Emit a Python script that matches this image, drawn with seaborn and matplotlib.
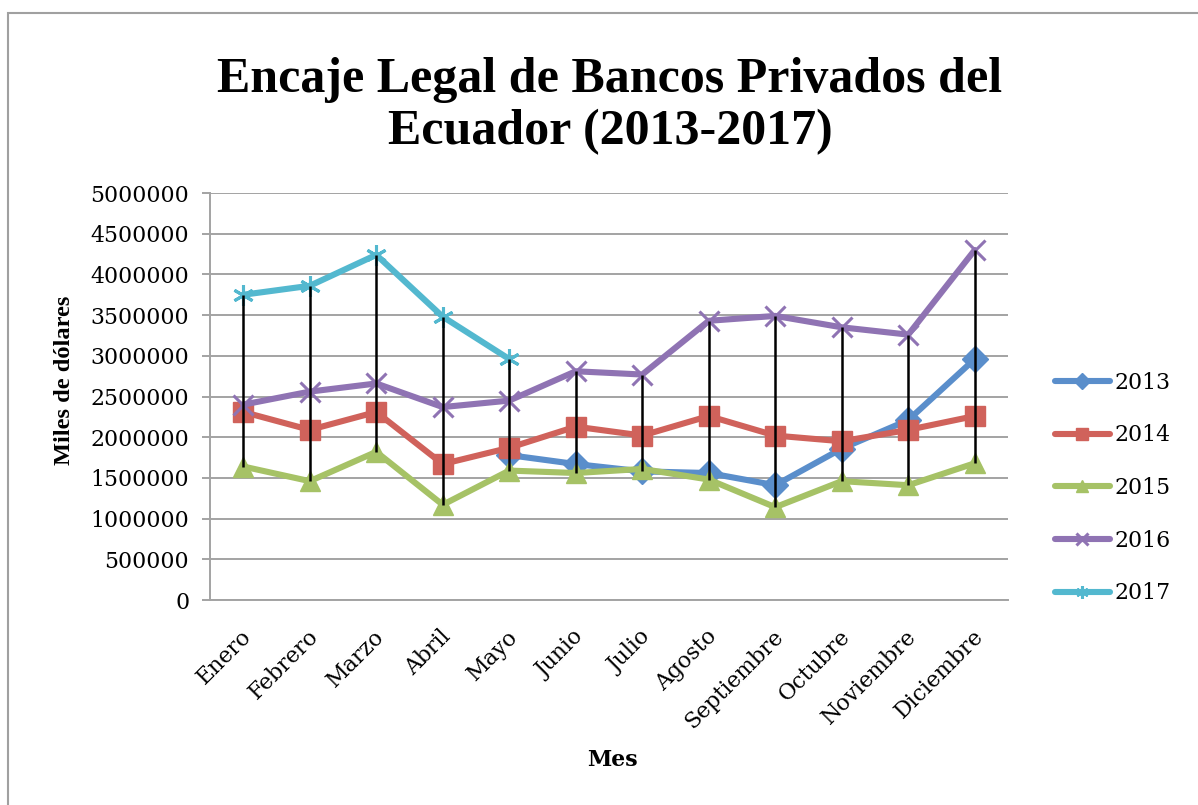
import numpy as np
import pandas as pd
import matplotlib
matplotlib.use("Agg")
import matplotlib.pyplot as plt
import matplotlib.patches as mpatches
from matplotlib.transforms import ScaledTranslation
import seaborn as sns

meses = ['Enero', 'Febrero', 'Marzo', 'Abril', 'Mayo', 'Junio', 'Julio',
         'Agosto', 'Septiembre', 'Octubre', 'Noviembre', 'Diciembre']
nan = np.nan
v2013 = [nan, nan, nan, nan, 1780000, 1670000, 1580000, 1560000, 1410000, 1860000, 2210000, 2960000]
v2014 = [2310000, 2090000, 2310000, 1670000, 1870000, 2130000, 2020000, 2260000, 2020000, 1950000, 2090000, 2260000]
v2015 = [1640000, 1460000, 1820000, 1170000, 1590000, 1560000, 1610000, 1480000, 1140000, 1460000, 1410000, 1680000]
v2016 = [2400000, 2560000, 2660000, 2370000, 2450000, 2810000, 2770000, 3430000, 3490000, 3350000, 3260000, 4300000]
v2017 = [3750000, 3860000, 4240000, 3480000, 2960000, nan, nan, nan, nan, nan, nan, nan]
anios = ['2013', '2014', '2015', '2016', '2017']
yticks = [0, 500000, 1000000, 1500000, 2000000, 2500000, 3000000, 3500000, 4000000, 4500000, 5000000]

series = {'2013': v2013, '2014': v2014, '2015': v2015, '2016': v2016, '2017': v2017}
colores = {'2013': '#5a8ecb', '2014': '#d0625b', '2015': '#a6c266', '2016': '#8f73b3', '2017': '#53b8cf'}
marcadores = {'2013': 'D', '2014': 's', '2015': '^', '2016': 'x', '2017': (6, 2, 0)}
tamanos = {'2013': 13, '2014': 15, '2015': 15, '2016': 15, '2017': 15}

sns.set_theme(style="white")
plt.rcParams['font.family'] = ['DejaVu Serif']
plt.rcParams['text.color'] = 'black'
plt.rcParams['axes.labelcolor'] = 'black'

W, H = 1198, 805
fig = plt.figure(figsize=(W / 100, H / 100), dpi=100)
ax = fig.add_axes([210 / W, (H - 600) / H, (1008 - 210) / W, (600 - 193) / H])

pos = np.arange(len(meses))
df = pd.DataFrame({'pos': pos, **series})
grid_c = '#a3a3a3'

for a in anios:
    c = colores[a]
    filled = a in ('2013', '2014', '2015')
    sns.lineplot(data=df, x='pos', y=a, ax=ax, color=c, linewidth=4.4,
                 marker=marcadores[a], markersize=tamanos[a],
                 markeredgecolor=c, markerfacecolor=c if filled else 'none',
                 markeredgewidth=1 if filled else 2.2,
                 solid_capstyle='round', solid_joinstyle='round',
                 label=a, zorder=3)

# high-low lines across all series per month
datos = np.array([v2013, v2014, v2015, v2016, v2017], dtype=float)
alto = np.nanmax(datos, axis=0)
bajo = np.nanmin(datos, axis=0)
ax.vlines(pos, bajo, alto, color='black', linewidth=1.8, zorder=4)

ax.set_xlim(-0.5, len(meses) - 0.5)
ax.set_ylim(0, 5000000)
ax.set_yticks(yticks)
ax.set_yticklabels([str(v) for v in yticks], fontsize=15.8)
ax.set_xticks(pos)
ax.set_xticklabels(meses, fontsize=15.8, rotation=45, ha='right', va='center',
                   rotation_mode='anchor')
ax.tick_params(axis='x', length=0, pad=24, labelcolor='black')
ax.tick_params(axis='y', length=6, width=1.4, color=grid_c, pad=9, direction='out',
               left=True, labelcolor='black')
desplazar = ScaledTranslation(5 / 100, 0, fig.dpi_scale_trans)
for lbl in ax.get_xticklabels():
    lbl.set_transform(lbl.get_transform() + desplazar)
ax.grid(axis='y', color=grid_c, linewidth=1.4, zorder=0)
ax.set_axisbelow(True)
for s in ('top', 'right'):
    ax.spines[s].set_visible(False)
for s in ('left', 'bottom'):
    ax.spines[s].set_color(grid_c)
    ax.spines[s].set_linewidth(1.4)
ax.set_xlabel('')
ax.set_ylabel('')

fig.text(610 / W, 1 - 106 / H, 'Encaje Legal de Bancos Privados del\nEcuador (2013-2017)',
         ha='center', va='center', fontsize=36, fontweight='bold', linespacing=1.16,
         family=['Liberation Serif'], color='black')
fig.text(64 / W, 1 - 380 / H, 'Miles de dólares', rotation=90, ha='center', va='center',
         fontsize=17.6, fontweight='bold', family=['Liberation Serif'], color='black')
fig.text(612 / W, 1 - 760 / H, 'Mes', ha='center', va='center', fontsize=15.8,
         fontweight='bold', color='black')

handles, labels = ax.get_legend_handles_labels()
leg = fig.legend(handles, labels, loc='center left', bbox_to_anchor=(1044 / W, 1 - 488 / H),
                 frameon=False, fontsize=15.8, handlelength=2.5, handletextpad=0.2,
                 labelspacing=1.4, borderpad=0, markerscale=0.6)
for t in leg.get_texts():
    t.set_color('black')
if ax.get_legend() is not None:
    ax.get_legend().remove()

fig.patches.append(mpatches.Rectangle((8 / W, -0.1), 1.2, (H - 13) / H + 0.1,
                                      transform=fig.transFigure, fill=False,
                                      edgecolor='#a0a0a0', linewidth=1.5))

fig.savefig('out.png', dpi=100)
